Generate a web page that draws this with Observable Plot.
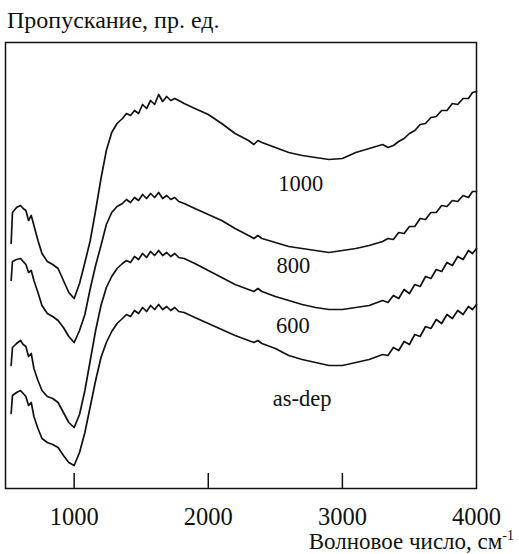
<!DOCTYPE html>
<html><head><meta charset="utf-8">
<script src="https://cdn.jsdelivr.net/npm/d3@7"></script>
<script src="https://cdn.jsdelivr.net/npm/@observablehq/plot@0.6"></script>
<style>
html,body{margin:0;background:#fff;font-family:"Liberation Serif","Times New Roman",serif;color:#111}
body{position:relative;width:519px;height:554px;overflow:hidden}
#title{height:38px;box-sizing:border-box;padding:7px 0 0 7px;font-size:24px;line-height:26px}
#xlabel{position:absolute;right:5px;top:532px;font-size:23px;line-height:20px;height:20px;white-space:nowrap}
#xlabel sup{font-size:14px;vertical-align:9px;line-height:0}
svg{display:block}
</style></head><body>
<div id="title">Пропускание, пр. ед.</div>
<div id="chart"></div>
<div id="xlabel">Волновое число, см<sup>-1</sup></div>
<script>
// wavenumber, cm-1
const wavenumber = [530,540,570,600,620,640,660,680,700,730,
 760,800,840,880,920,960,1000,1040,1080,1120,
 1160,1200,1240,1280,1320,1360,1390,1420,1450,1480,
 1510,1540,1570,1600,1630,1660,1690,1720,1750,1780,
 1820,1900,2000,2100,2200,2300,2340,2370,2400,2500,
 2600,2700,2800,2900,3000,3100,3200,3300,3340,3380,
 3420,3460,3500,3540,3580,3620,3660,3700,3740,3780,
 3820,3860,3900,3940,3970,4000];
// transmission, arbitrary units (curves are offset vertically as in the figure)
const t1000 = [122.5,138,140.5,141.5,140,139,134,136.5,131.5,124,
 117.5,113.5,112,110,104,98,95,102.5,113,124,
 139,155,169,178,182.5,185,187.5,186.5,189,187.5,
 192,190,194,192,197,193.5,196,194,195,194,
 192.5,190,187,182.5,177.5,174,172,174,173,170.5,
 168,166.5,165.5,164.5,165,168,170,172,170.5,171.5,
 173.5,175,177.5,179,182,182.5,185.5,186,189,189,
 192.5,192,195,195,198,198.5];
const t800 = [104,113.5,114.5,115,113.5,112,108,109,104,98,
 91.5,87.5,86,84,80.5,76,73,79,87,100,
 111.5,121.5,132,138,141,142.5,144.5,143,145.5,144,
 147,145,147.5,145.5,148,145,146.5,144.5,145.5,143.5,
 142.5,140,137,134,130,126.5,125,126.5,125,123,
 121,120,119,118,119,120,121.5,123.5,125,124.5,
 128,127.5,131,131,135,134.5,138,138,141.5,141,
 144,143.5,146.5,145.5,148.5,148.5];
const t600 = [61.5,70.5,72.5,74,72,71,66,67.5,60,54,
 49,46,45,43,38,33,30.5,37,49,64,
 79,91.5,100.5,106,110,112.5,114,113,116,114.5,
 117.5,115.5,118.5,116.5,119,116.5,118,116,117.5,115.5,
 115,112.5,109,105.5,102,99.5,98.5,100,98.5,96,
 94,92,90.5,89.5,89.5,90.5,91.5,94,93,96.5,
 95,99.5,97.5,102,101,106,105,109.5,108.5,113,
 111.5,116,114.5,119,117.5,120];
const tAsDep = [37.5,46.5,48,49,47.5,46,41.5,43,36,30,
 25,23,22,20.5,16.5,13,11.5,18,28,41,
 54,65.5,73,78.5,82.5,85,87,86,89,87.5,
 90.5,88.5,91.5,89.5,92,89.5,91,89,90.5,88.5,
 88,85.5,82.5,79.5,76.5,74,73,74,72.5,70,
 66.5,64.5,63,61.5,61.5,63,64.5,67,66.5,70.5,
 69,73.5,72,77,76,81,80,84.5,82.5,87,
 85,89,87,91,89.5,92];
const series = [t1000, t800, t600, tAsDep];
const xTicks = [1000, 2000, 3000, 4000];
const labelText = ["1000", "800", "600", "as-dep"];
const labelWn = [2690, 2635, 2630, 2700];
const labelT = [152.5, 111.5, 81.5, 45];

const font = '"Liberation Serif","Times New Roman",serif';
const chart = Plot.plot({
  width: 519, height: 494,
  marginLeft: 5, marginRight: 43, marginTop: 4, marginBottom: 44,
  x: {domain: [488, 4000]},
  y: {domain: [0, 223], axis: null},
  style: {fontFamily: font, background: "white", color: "#111", overflow: "visible"},
  marks: [
    Plot.frame({stroke: "#111", strokeWidth: 1.5}),
    Plot.tickX(xTicks.slice(0, 3), {x: d => d, insetTop: 431, stroke: "#111", strokeWidth: 1.5}),
    Plot.axisX({ticks: xTicks, tickSize: 0, tickPadding: 19, fontSize: 24.5, label: null, tickFormat: "d"}),
    ...series.map(t => Plot.lineY(t, {x: wavenumber, stroke: "#111", strokeWidth: 1.7, curve: "linear"})),
    Plot.text(labelText, {x: labelWn, y: labelT, text: d => d, fontSize: 22.5, fill: "#111"})
  ]
});
document.getElementById("chart").appendChild(chart);
</script>
</body></html>
